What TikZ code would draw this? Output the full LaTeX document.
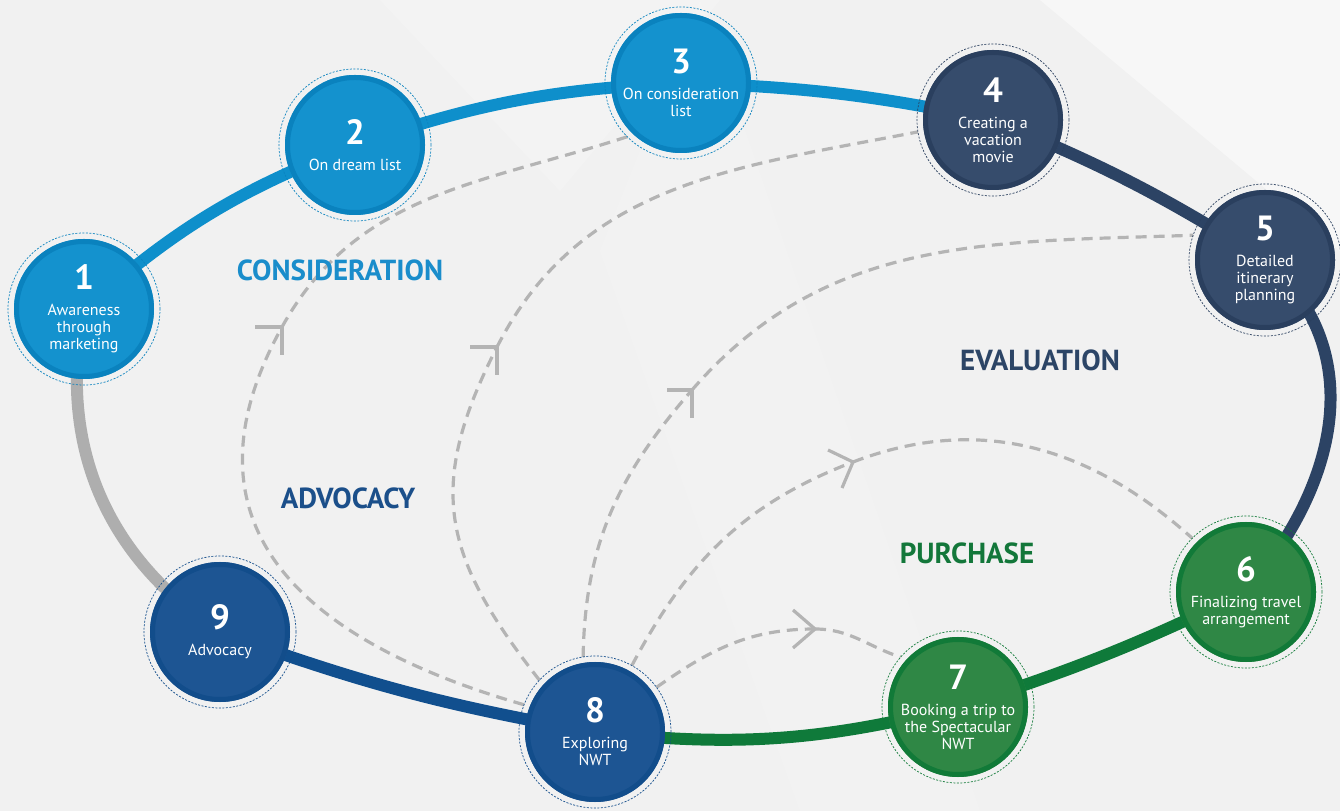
\documentclass[tikz,border=0pt]{standalone}
\usepackage{fontspec}
\setmainfont{PT Sans}
\usetikzlibrary{arrows.meta}
\pgfdeclarelayer{back}
\pgfdeclarelayer{lines}
\pgfsetlayers{back,lines,main}
\definecolor{cblue}{HTML}{0E8FCB}
\definecolor{cbluefill}{HTML}{1492CE}
\definecolor{cblueedge}{HTML}{0A82BE}
\definecolor{cnavy}{HTML}{2C4364}
\definecolor{cnavyfill}{HTML}{364C6C}
\definecolor{cnavyedge}{HTML}{2A3F5E}
\definecolor{cgreen}{HTML}{0F7A3A}
\definecolor{cgreenfill}{HTML}{2F8745}
\definecolor{cgreenedge}{HTML}{117A38}
\definecolor{cdblue}{HTML}{114F8E}
\definecolor{cdbluefill}{HTML}{1D5593}
\definecolor{cdblueedge}{HTML}{124D8B}
\definecolor{cgreyline}{HTML}{AEAEAE}
\definecolor{cdash}{HTML}{B4B4B4}
\definecolor{paper}{HTML}{F1F1F1}
\definecolor{phblue}{HTML}{1A8DCB}
\definecolor{phnavy}{HTML}{2C4566}
\definecolor{phdblue}{HTML}{1B4F8A}
\definecolor{phgreen}{HTML}{13773A}
\newcommand\stnum[1]{{\fontsize{35}{35}\selectfont\bfseries #1}}
\tikzset{
  stage/.style 2 args={circle, minimum size=152pt, inner sep=0pt, outer sep=0pt,
    draw=#2, line width=0.7pt, dash pattern=on 2pt off 1.5pt,
    path picture={\fill[#1] (path picture bounding box.center) circle (70pt);
      \draw[#2, solid, line width=5pt] (path picture bounding box.center) circle (67.5pt);}},
  stxt/.style={text=white, align=center, inner sep=0pt, font=\fontsize{16}{17}\selectfont},
  ptext/.style={inner sep=0pt, font=\fontsize{29}{29}\selectfont\bfseries},
  ring/.style={line width=12pt},
  dlink/.style={draw=cdash, line width=3.2pt, dash pattern=on 11pt off 7pt},
  chev/.style={draw=cdash, line width=3.2pt, solid, line join=miter}
}
\begin{document}
\begin{tikzpicture}[x=1pt,y=1pt]
\useasboundingbox (0,0) rectangle (1340,811);
\begin{pgfonlayer}{back}
\fill[paper] (0,0) rectangle (1340,811);
\fill[white, opacity=0.45] (1040,811) -- (1340,811) -- (1340,560) -- cycle;
\fill[white, opacity=0.18] (380,811) -- (720,811) -- (560,620) -- cycle;
\fill[white, opacity=0.12] (600,560) -- (700,811) -- (980,0) -- (800,0) -- cycle;
\end{pgfonlayer}

% stages
\node[stage={cbluefill}{cblueedge}] (n1) at (84,502) {};
\node[stage={cbluefill}{cblueedge}] (n2) at (355,666) {};
\node[stage={cbluefill}{cblueedge}] (n3) at (681,728) {};
\node[stage={cnavyfill}{cnavyedge}] (n4) at (993,691) {};
\node[stage={cnavyfill}{cnavyedge}] (n5) at (1265,551) {};
\node[stage={cgreenfill}{cgreenedge}] (n6) at (1246,219) {};
\node[stage={cgreenfill}{cgreenedge}] (n7) at (958,104) {};
\node[stage={cdbluefill}{cdblueedge}] (n8) at (595,79) {};
\node[stage={cdbluefill}{cdblueedge}] (n9) at (220,179) {};

\node[stxt] (t1) at (n1) {\stnum{1}\\[9pt]Awareness\\through\\marketing};
\node[stxt] (t2) at (n2) {\stnum{2}\\[9pt]On dream list};
\node[stxt] (t3) at (n3) {\stnum{3}\\[9pt]On consideration\\list};
\node[stxt] (t4) at (n4) {\stnum{4}\\[9pt]Creating a\\vacation\\movie};
\node[stxt] (t5) at (n5) {\stnum{5}\\[9pt]Detailed\\itinerary\\planning};
\node[stxt] (t6) at (n6) {\stnum{6}\\[9pt]Finalizing travel\\arrangement};
\node[stxt] (t7) at (n7) {\stnum{7}\\[9pt]Booking a trip to\\the Spectacular\\NWT};
\node[stxt] (t8) at (n8) {\stnum{8}\\[9pt]Exploring\\NWT};
\node[stxt] (t9) at (n9) {\stnum{9}\\[9pt]Advocacy};

% phases
\node[ptext, text=phblue] (pcons) at (340,541) {CONSIDERATION};
\node[ptext, text=phnavy] (peval) at (1040,451) {EVALUATION};
\node[ptext, text=phdblue] (padv) at (348,313) {ADVOCACY};
\node[ptext, text=phgreen] (ppur) at (967,258) {PURCHASE};

\coordinate (aA) at (282,484);
\coordinate (aB) at (497,464);
\coordinate (aC) at (692,421);
\coordinate (aD) at (853,349);
\coordinate (aE) at (815,182);

\begin{pgfonlayer}{lines}
% dashed links
\draw[dlink] (n8.159) to[out=164, in=241, looseness=1.3] (aA);
\draw[dlink] (aA) to[out=61, in=198] (n3.225);
\draw[dlink] (n8.137) to[out=128, in=243, looseness=1.2] (aB);
\draw[dlink] (aB) to[out=63, in=191] (n4.189);
\draw[dlink] (n8.99) to[out=89, in=229] (aC);
\draw[dlink] (aC) to[out=49, in=182] (n5.161);
\draw[dlink] (n8.61) to[out=62, in=201] (aD);
\draw[dlink] (aD) to[out=21, in=138] (n6.135);
\draw[dlink] (n8.36) to[out=35, in=180] (aE);
\draw[dlink] (aE) to[out=0, in=162] (n7.139);
% arrowheads
\draw[chev] ([shift={(-27,0)}]aA) -- (aA) -- ([shift={(0,-28)}]aA);
\draw[chev] ([shift={(-27,0)}]aB) -- (aB) -- ([shift={(0,-28)}]aB);
\draw[chev] ([shift={(-25,0)}]aC) -- (aC) -- ([shift={(0,-28)}]aC);
\draw[chev] ([shift={(-25,12)}]aD) -- (aD) -- ([shift={(-11,-26)}]aD);
\draw[chev] ([shift={(-22,19)}]aE) -- (aE) -- ([shift={(-22,-19)}]aE);
% ring
\draw[ring, cblue] (n1.center) to[bend left=10] (n2.center);
\draw[ring, cblue] (n2.center) to[bend left=8] (n3.center);
\draw[ring, cblue] (n3.center) to[bend left=5] (n4.center);
\draw[ring, cnavy] (n4.center) to[bend left=5] (n5.center);
\draw[ring, cnavy] (n5.center) .. controls (1360,471) and (1350,341) .. (n6.center);
\draw[ring, cgreen] (n6.center) to[bend left=4] (n7.center);
\draw[ring, cgreen] (n7.center) to[bend left=10] (n8.center);
\draw[ring, cdblue] (n8.center) to[bend left=5] (n9.center);
\draw[ring, cgreyline] (n9.center) to[bend left=34] (n1.center);
\end{pgfonlayer}
\end{tikzpicture}
\end{document}
